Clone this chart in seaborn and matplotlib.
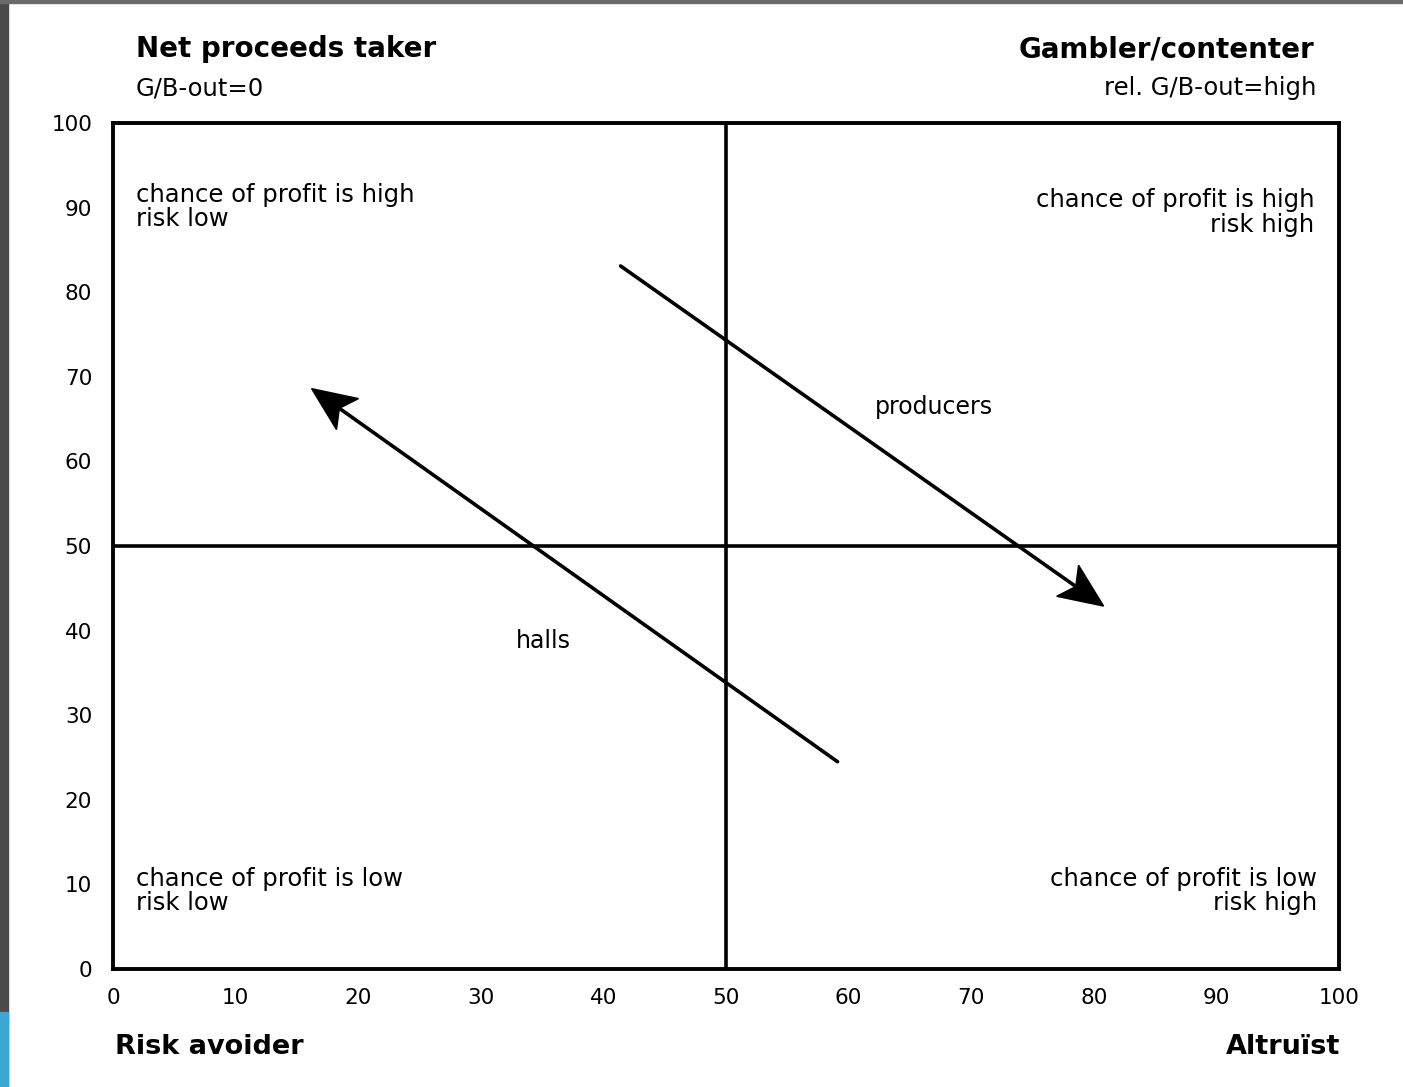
import numpy as np
import pandas as pd
import matplotlib.pyplot as plt
from matplotlib.patches import Rectangle
import seaborn as sns

# axis values
x_ticks = [0, 10, 20, 30, 40, 50, 60, 70, 80, 90, 100]
y_ticks = [0, 10, 20, 30, 40, 50, 60, 70, 80, 90, 100]
split = 50

# arrows: (start x, start y) -> (end x, end y)
arrow_names = ["producers", "halls"]
arrow_start = [(41.4, 83.1), (59.1, 24.5)]
arrow_end = [(80.8, 42.9), (16.2, 68.6)]
arrow_label_pos = [(67.0, 66.4), (35.1, 38.8)]

quadrant_text = [
    "chance of profit is high\nrisk low",
    "chance of profit is high\nrisk high",
    "chance of profit is low\nrisk low",
    "chance of profit is low\nrisk high",
]

corner_titles = ["Net proceeds taker", "Gambler/contenter"]
corner_subtitles = ["G/B-out=0", "rel. G/B-out=high"]
x_end_labels = ["Risk avoider", "Altruïst"]

sns.set_theme(style="white")
plt.rcParams["font.family"] = ["DejaVu Sans"]
plt.rcParams["text.color"] = "black"
plt.rcParams["xtick.color"] = "black"
plt.rcParams["ytick.color"] = "black"

W, H = 1403, 1087
fig = plt.figure(figsize=(W / 100, H / 100), dpi=100)
ax = fig.add_axes([113 / W, 1 - 969 / H, 1226 / W, 846 / H])
ax.set_xlim(0, 100)
ax.set_ylim(0, 100)

# quadrant dividers
div = pd.DataFrame({"x": [0, 100], "y": [split, split]})
sns.lineplot(data=div, x="x", y="y", color="black", lw=2.6, ax=ax)
div2 = pd.DataFrame({"x": [split, split], "y": [0, 100]})
sns.lineplot(data=div2, x="x", y="y", color="black", lw=2.6, ax=ax,
             orient="y")


def draw_arrow(s, e, head_len=44, half_w=19, notch=34):
    # work in pixels so the head keeps its shape, then go back to data
    p0 = ax.transData.transform(s)
    p1 = ax.transData.transform(e)
    d = (p1 - p0) / np.hypot(*(p1 - p0))
    n = np.array([-d[1], d[0]])
    back = p1 - d * head_len
    pts = np.array([p1, back + n * half_w, p1 - d * notch, back - n * half_w])
    pts = ax.transData.inverted().transform(pts)
    shaft_end = ax.transData.inverted().transform(p1 - d * (notch + 2))
    shaft = pd.DataFrame({"x": [s[0], shaft_end[0]], "y": [s[1], shaft_end[1]]})
    sns.lineplot(data=shaft, x="x", y="y", color="black", lw=2.6, ax=ax,
                 sort=False)
    ax.fill(pts[:, 0], pts[:, 1], color="black", lw=1.0, zorder=3)


for name, s, e, lp in zip(arrow_names, arrow_start, arrow_end, arrow_label_pos):
    draw_arrow(s, e)
    ax.text(lp[0], lp[1], name, fontsize=17, ha="center", va="center")

qfs = 17.5
ax.text(1.9, 90.1, quadrant_text[0], fontsize=qfs, ha="left", va="center",
        linespacing=1.02)
ax.text(98.0, 89.4, quadrant_text[1], fontsize=qfs, ha="right", va="center",
        linespacing=1.02)
ax.text(1.9, 9.2, quadrant_text[2], fontsize=qfs, ha="left", va="center",
        linespacing=1.02)
ax.text(98.2, 9.2, quadrant_text[3], fontsize=qfs, ha="right", va="center",
        linespacing=1.02)

ax.set_xticks(x_ticks)
ax.set_yticks(y_ticks)
ax.tick_params(axis="both", length=0, labelsize=15.5)
ax.tick_params(axis="x", pad=14)
ax.tick_params(axis="y", pad=15)
ax.set_xlabel("")
ax.set_ylabel("")
for sp in ax.spines.values():
    sp.set_color("black")
    sp.set_linewidth(2.8)

# corner labels
fig.text(136 / W, 1 - 49 / H, corner_titles[0], fontsize=20,
         fontweight="bold", ha="left", va="center")
fig.text(1314 / W, 1 - 49 / H, corner_titles[1], fontsize=20,
         fontweight="bold", ha="right", va="center")
fig.text(136 / W, 1 - 88 / H, corner_subtitles[0], fontsize=17.5,
         ha="left", va="center")
fig.text(1316 / W, 1 - 88 / H, corner_subtitles[1], fontsize=17.5,
         ha="right", va="center")
fig.text(115 / W, 1 - 1047 / H, x_end_labels[0], fontsize=19.5,
         fontweight="bold", ha="left", va="center")
fig.text(1340 / W, 1 - 1047 / H, x_end_labels[1], fontsize=19.5,
         fontweight="bold", ha="right", va="center")

# slide frame remnants
fig.patches.append(Rectangle((0, 0), 8 / W, 1, transform=fig.transFigure,
                             color="#4a4a4a", zorder=0))
fig.patches.append(Rectangle((0, 1 - 3 / H), 1, 3 / H,
                             transform=fig.transFigure, color="#6a6a6a", zorder=0))
fig.patches.append(Rectangle((0, 0), 8 / W, 75 / H,
                             transform=fig.transFigure, color="#3aa8d0", zorder=1))

fig.savefig("out.png", dpi=100)
